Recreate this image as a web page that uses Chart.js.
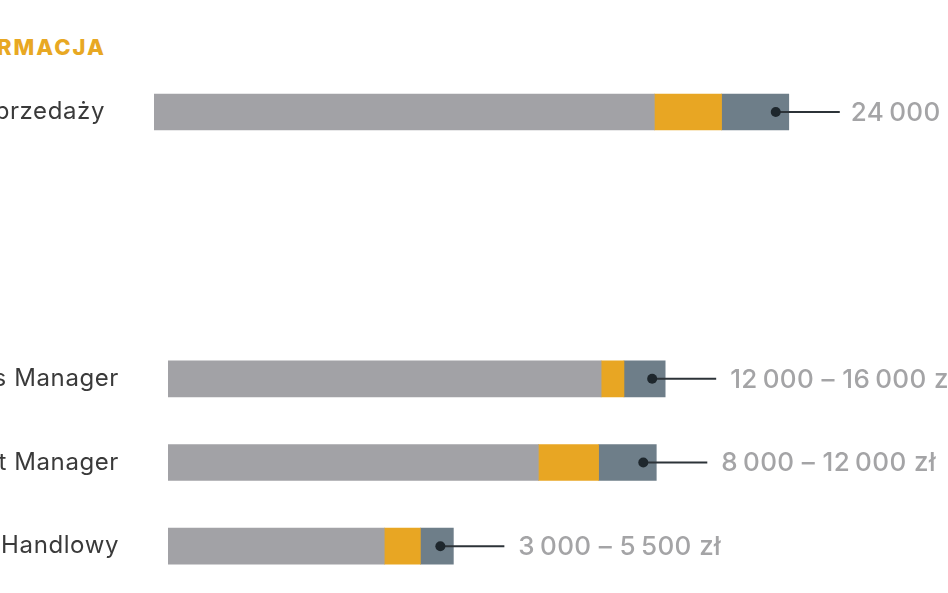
<!DOCTYPE html>
<html>
<head>
<meta charset="utf-8">
<script src="https://cdn.jsdelivr.net/npm/chart.js@4"></script>
<style>
    html, body { margin: 0; padding: 0; background: #fff; }
    body { width: 948px; height: 593px; position: relative; overflow: hidden; }
    .heading {
        position: absolute;
        right: 842px;
        top: 34px;
        white-space: nowrap;
        font-family: Inter, sans-serif;
        font-weight: 800;
        font-size: 22px;
        letter-spacing: 2px;
        color: #e8a823;
    }
    .box { position: absolute; left: 0; width: 948px; }
    #topBox { top: 76px; height: 72px; }
    #bottomBox { top: 337px; height: 251px; }
</style>
</head>
<body>
<div class="heading">FARMACJA</div>
<div class="box" id="topBox"><canvas id="topChart"></canvas></div>
<div class="box" id="bottomBox"><canvas id="bottomChart"></canvas></div>

<script>
// Top section
const topCategories = ['Dyrektor sprzedaży'];
const topBase = [78.9];
const topMid = [10.6];
const topEnd = [10.6];
const topValues = ['24\u2009000'];

// Bottom section
const bottomCategories = ['Sales Manager', 'Key Account Manager', 'Przedstawiciel Handlowy'];
const bottomBase = [68.3, 58.4, 34.1];
const bottomMid = [3.6, 9.5, 5.7];
const bottomEnd = [6.5, 9.1, 5.2];
const bottomValues = ['12\u2009000 \u2013 16\u2009000 zł', '8\u2009000 \u2013 12\u2009000 zł', '3\u2009000 \u2013 5\u2009500 zł'];

const GRAY = '#a2a2a6';
const ORANGE = '#e8a623';
const SLATE = '#6e7e89';

// draws row labels, the dot + leader line and the value text
const labelPlugin = {
    id: 'rowLabels',
    afterDatasetsDraw(chart, args, opts) {
        const ctx = chart.ctx;
        const area = chart.chartArea;
        const lastMeta = chart.getDatasetMeta(chart.data.datasets.length - 1);
        ctx.save();
        lastMeta.data.forEach((bar, i) => {
            const y = bar.y;
            // category label
            ctx.font = '400 24px Inter, sans-serif';
            ctx.letterSpacing = '0.6px';
            ctx.fillStyle = '#3a3a3a';
            ctx.textAlign = 'right';
            ctx.textBaseline = 'middle';
            ctx.fillText(chart.data.labels[i], area.left - 49, y);

            // leader line
            ctx.strokeStyle = '#2c3338';
            ctx.lineWidth = 2;
            ctx.beginPath();
            ctx.moveTo(bar.x - 13, y);
            ctx.lineTo(bar.x + 51, y);
            ctx.stroke();

            // dot
            ctx.fillStyle = '#1e272d';
            ctx.beginPath();
            ctx.arc(bar.x - 13, y, 5, 0, Math.PI * 2);
            ctx.fill();

            // value
            ctx.font = '500 26px Inter, sans-serif';
            ctx.letterSpacing = '0.4px';
            ctx.fillStyle = '#a4a4a6';
            ctx.textAlign = 'left';
            ctx.fillText(opts.values[i], bar.x + opts.gap, y + 1);
        });
        ctx.restore();
    }
};

function makeChart(id, labels, base, mid, end, values, padLeft, padRight, gap) {
    const ctx = document.getElementById(id).getContext('2d');
    return new Chart(ctx, {
        type: 'bar',
        data: {
            labels: labels,
            datasets: [
                { data: base, backgroundColor: GRAY, barThickness: 36 },
                { data: mid, backgroundColor: ORANGE, barThickness: 36 },
                { data: end, backgroundColor: SLATE, barThickness: 36 }
            ]
        },
        options: {
            indexAxis: 'y',
            responsive: true,
            maintainAspectRatio: false,
            animation: false,
            layout: { padding: { left: padLeft, right: padRight, top: 0, bottom: 0 } },
            plugins: {
                legend: { display: false },
                tooltip: { enabled: false },
                rowLabels: { values: values, gap: gap }
            },
            scales: {
                x: { stacked: true, display: false, min: 0, max: 123 },
                y: { stacked: true, display: false }
            }
        },
        plugins: [labelPlugin]
    });
}

makeChart('topChart', topCategories, topBase, topMid, topEnd, topValues, 154, 14, 62);
makeChart('bottomChart', bottomCategories, bottomBase, bottomMid, bottomEnd, bottomValues, 168, 0, 65);
</script>
</body>
</html>
